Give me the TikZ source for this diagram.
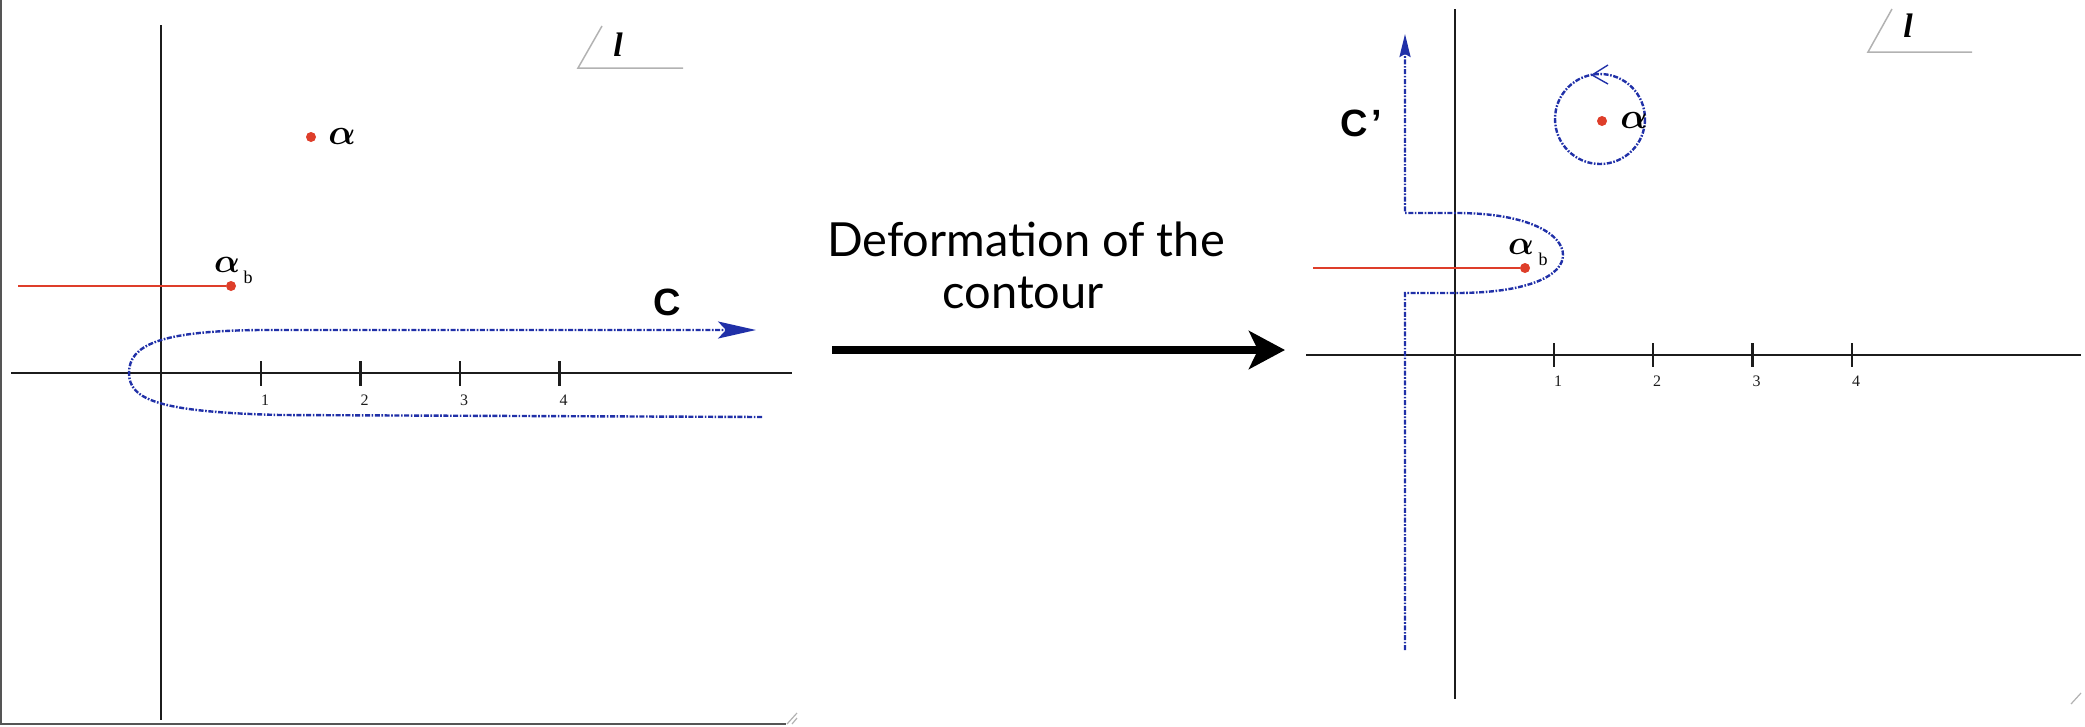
\RequirePackage{fix-cm}
\documentclass[tikz,border=0pt]{standalone}
\usepackage{fontspec}
\setmainfont{Liberation Serif}
\newfontfamily\gillfont{Lato}
\newfontfamily\helvfont{Liberation Sans}
\usetikzlibrary{arrows.meta}
\definecolor{cred}{RGB}{222,62,42}
\definecolor{cblue}{RGB}{32,48,168}
\definecolor{caxis}{RGB}{28,28,28}
\definecolor{cframe}{RGB}{85,85,85}
\definecolor{cmark}{RGB}{178,178,178}
\begin{document}
\begin{tikzpicture}[x=1pt,y=-1pt,
  axisline/.style={line width=2.7pt,draw=caxis},
  tickline/.style={line width=2.7pt,draw=caxis},
  ticklabel/.style={font=\fontsize{16}{16}\selectfont,inner sep=0pt,text=caxis},
  cutline/.style={line width=2.2pt,draw=cred},
  pole/.style={circle,fill=cred,minimum size=10pt,inner sep=0pt},
  contourline/.style={line width=2.4pt,draw=cblue,dash pattern=on 5pt off 1.6pt on 1.6pt off 1.6pt},
  greeklabel/.style={font=\mathversion{bold}\fontsize{36}{36}\selectfont,inner sep=0pt},
  greekbig/.style={font=\mathversion{bold}\fontsize{34}{34}\selectfont,inner sep=0pt},
  sublabel/.style={font=\fontsize{18}{18}\selectfont,inner sep=0pt},
  clabel/.style={font=\helvfont\bfseries\fontsize{38}{38}\selectfont,inner sep=0pt},
  planemark/.style={line width=1.5pt,draw=cmark},
  planelabel/.style={font=\bfseries\itshape\fontsize{34}{34}\selectfont,inner sep=0pt},
  framelineg/.style={line width=2pt,draw=cframe},
  gripline/.style={line width=1.2pt,draw=cmark},
  deformtext/.style={font=\gillfont\fontsize{47}{47}\selectfont,inner sep=0pt,anchor=base},
  bigarrow/.style={line width=8.6pt,draw=black,-{Stealth[length=36pt,width=38pt,inset=9pt]}}
]
\useasboundingbox (0,0) rectangle (2085,726);

% ---------------- left panel ----------------
\coordinate (fTL) at (1,0);
\coordinate (fBL) at (1,724);
\coordinate (fBR) at (786,724);
\draw[framelineg] (fTL) -- (fBL) -- (fBR);
\coordinate (g1a) at (787,724); \coordinate (g1b) at (797,713);
\coordinate (g2a) at (792,724); \coordinate (g2b) at (797,718);
\draw[gripline] (g1a) -- (g1b);
\draw[gripline] (g2a) -- (g2b);

\coordinate (Lxa) at (11,373);
\coordinate (Lxb) at (792,373);
\coordinate (Lya) at (161,25);
\coordinate (Lyb) at (161,720);
\draw[axisline] (Lxa) -- (Lxb);
\draw[axisline] (Lya) -- (Lyb);
\foreach \i/\x in {1/261,2/360.5,3/460,4/559.5}{
  \coordinate (Lt\i a) at (\x,361);
  \coordinate (Lt\i b) at (\x,386);
  \draw[tickline] (Lt\i a) -- (Lt\i b);
  \node[ticklabel] (Ltl\i) at (\x+4,400) {\i};
}

% l marker
\coordinate (Lm1) at (602,26);
\coordinate (Lm2) at (578,68);
\coordinate (Lm3) at (683,68);
\draw[planemark] (Lm1) -- (Lm2) -- (Lm3);
\node[planelabel] (Ll) at (618,45) {l};

% branch cut and poles
\coordinate (Lcut) at (18,286);
\node[pole] (Lab) at (231,286) {};
\draw[cutline] (Lcut) -- (Lab);
\node[greekbig] (Lablbl) at (227,265) {$\alpha$};
\node[sublabel] (Labsub) at (248,277) {b};
\node[pole] (La) at (311,137) {};
\node[greeklabel] (Lalbl) at (342,136) {$\alpha$};

% contour C
\coordinate (Cst) at (762,417);
\coordinate (Cl1) at (280,415);
\coordinate (Cleft) at (129,373);
\coordinate (Cu1) at (260,330);
\coordinate (Cend) at (756,330);
\draw[contourline,-{Stealth[length=38pt,width=17pt,inset=8pt]}]
  (Cst) -- (Cl1) .. controls (160,412) and (129,400) .. (Cleft)
  .. controls (129,345) and (160,331) .. (Cu1) -- (Cend);
\node[clabel] (Clbl) at (667,302) {C};

% ---------------- middle ----------------
\node[deformtext] (dt1) at (1026,256) {Deformation of the};
\node[deformtext] (dt2) at (1023,308) {contour};
\coordinate (arS) at (832,350);
\coordinate (arE) at (1285,350);
\draw[bigarrow] (arS) -- (arE);

% ---------------- right panel ----------------
\coordinate (g3a) at (2071,704); \coordinate (g3b) at (2081,693);
\draw[gripline] (g3a) -- (g3b);

\coordinate (Rxa) at (1306,355);
\coordinate (Rxb) at (2081,355);
\coordinate (Rya) at (1455,9);
\coordinate (Ryb) at (1455,699);
\draw[axisline] (Rxa) -- (Rxb);
\draw[axisline] (Rya) -- (Ryb);
\foreach \i/\x in {1/1554,2/1653,3/1752.5,4/1852}{
  \coordinate (Rt\i a) at (\x,343);
  \coordinate (Rt\i b) at (\x,367);
  \draw[tickline] (Rt\i a) -- (Rt\i b);
  \node[ticklabel] (Rtl\i) at (\x+4,381) {\i};
}

% l marker
\coordinate (Rm1) at (1892,9);
\coordinate (Rm2) at (1868,52);
\coordinate (Rm3) at (1972,52);
\draw[planemark] (Rm1) -- (Rm2) -- (Rm3);
\node[planelabel] (Rl) at (1908,26) {l};

% contour C'
\coordinate (Dst) at (1405,650);
\coordinate (Db) at (1405,293);
\coordinate (Db2) at (1456,293);
\coordinate (Dr) at (1563,255);
\coordinate (Dt2) at (1456,213);
\coordinate (Dt) at (1405,213);
\coordinate (Dend) at (1405,34);
\draw[contourline,-{Stealth[length=23pt,width=11pt,inset=3pt]}]
  (Dst) -- (Db) -- (Db2) .. controls (1530,293) and (1563,275) .. (Dr)
  .. controls (1563,235) and (1530,213) .. (Dt2) -- (Dt) -- (Dend);
\node[clabel,anchor=base west] (Dlbl) at (1340,136) {C\hspace{4pt}’};

% branch cut and poles
\coordinate (Rcut) at (1313,268);
\node[pole] (Rab) at (1525,268) {};
\draw[cutline] (Rcut) -- (Rab);
\node[greekbig] (Rablbl) at (1521,247) {$\alpha$};
\node[sublabel] (Rabsub) at (1543,259) {b};

% circle around alpha
\coordinate (Rcc) at (1600,119);
\draw[contourline] (Rcc) circle[radius=45];
\coordinate (Rba) at (1608,65);
\coordinate (Rbt) at (1592,75);
\coordinate (Rbb) at (1608,84);
\draw[line width=1.4pt,draw=cblue] (Rba) -- (Rbt) -- (Rbb);
\node[pole] (Ra) at (1602,121) {};
\node[greeklabel] (Ralbl) at (1634,120) {$\alpha$};
\end{tikzpicture}
\end{document}
